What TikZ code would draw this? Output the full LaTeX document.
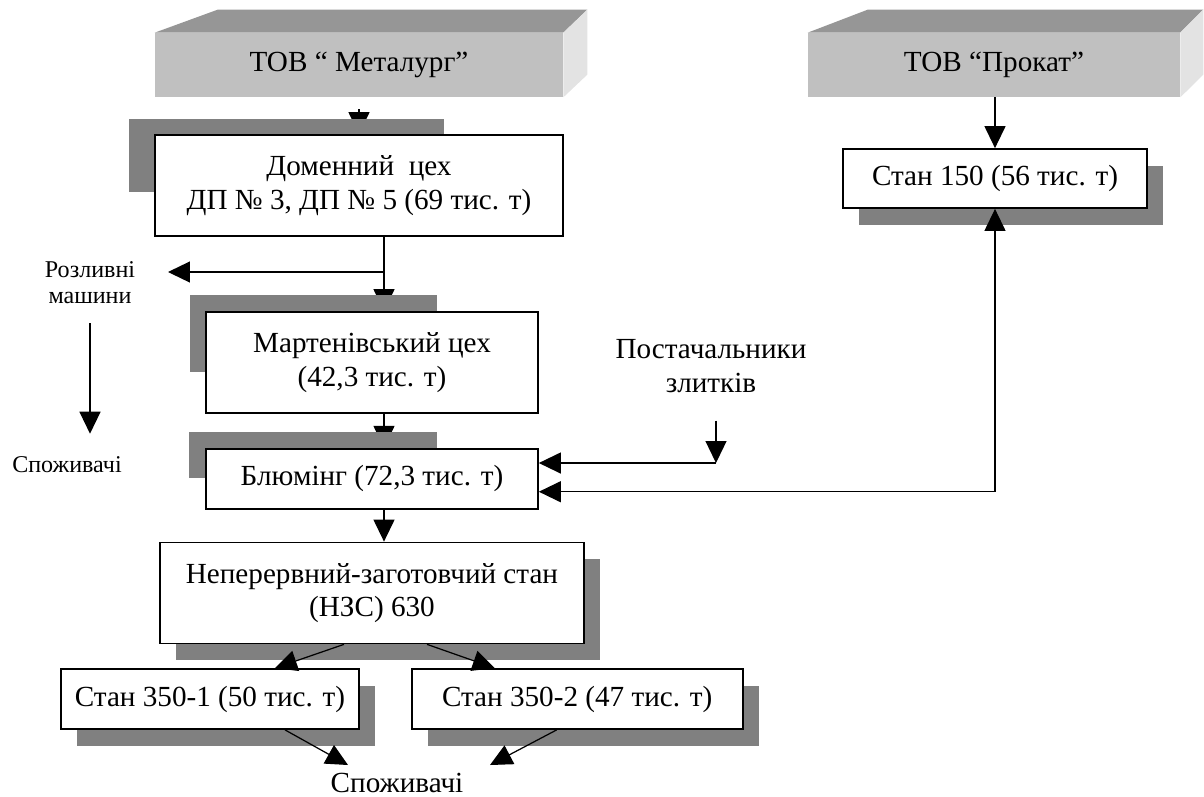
\documentclass[tikz,border=0pt]{standalone}
\usepackage{fontspec}
\setmainfont{Liberation Serif}
\usetikzlibrary{positioning,arrows.meta,shadows}
\definecolor{shadowgray}{HTML}{808080}
\definecolor{face}{HTML}{C0C0C0}
\definecolor{facetop}{HTML}{969696}
\definecolor{faceside}{HTML}{E3E3E3}
\pgfdeclarelayer{back}
\pgfdeclarelayer{mid}
\pgfsetlayers{back,mid,main}

\begin{document}
\begin{tikzpicture}[x=0.02cm,y=-0.02cm,
  font=\fontsize{16.6}{19}\selectfont,
  box/.style={draw=black,line width=1pt,fill=white,align=center,inner sep=0pt},
  sbox/.style={box,drop shadow={shadow xshift=0.32cm,shadow yshift=-0.33cm,fill=shadowgray,opacity=1}},
  front/.style={fill=face,align=center,inner sep=0pt,minimum height=1.28cm},
  arr/.style={-{Triangle[length=0.44cm,width=0.42cm]},line width=0.7pt},
  arrs/.style={{Triangle[length=0.44cm,width=0.42cm]}-{Triangle[length=0.44cm,width=0.42cm]},line width=0.7pt},
  lbl/.style={font=\fontsize{13.7}{14.8}\selectfont,align=center}]
  \useasboundingbox (0,0) rectangle (1204,796);

  % top blocks
  \node[front,minimum width=8.16cm] (met) at (359,65) {ТОВ “ Металург”};
  \node[front,minimum width=7.44cm] (prok) at (994,65) {ТОВ “Прокат”};
  \fill[facetop] (met.north west) -- ++(1.26cm,0.46cm) -- ([shift={(0.48cm,0.46cm)}]met.north east) -- (met.north east) -- cycle;
  \fill[faceside] (met.north east) -- ++(0.48cm,0.46cm) -- ++(0,-1.3cm) -- (met.south east) -- cycle;
  \fill[facetop] (prok.north west) -- ++(1.2cm,0.46cm) -- ([shift={(0.46cm,0.46cm)}]prok.north east) -- (prok.north east) -- cycle;
  \fill[faceside] (prok.north east) -- ++(0.46cm,0.46cm) -- ++(0,-1.3cm) -- (prok.south east) -- cycle;

  % shops
  \node[box,minimum width=8.16cm,minimum height=2.02cm] (dom) at (359,185.5) {Доменний\ \ цех\\ДП № 3, ДП № 5 (69 тис. т)};
  \node[box,minimum width=6.64cm,minimum height=2.02cm] (mart) at (372,362.5) {Мартенівський цех\\(42,3 тис. т)};
  \node[box,below=0.68cm of mart,minimum width=6.64cm,minimum height=1.2cm] (blum) {Блюмінг (72,3 тис. т)};
  \node[sbox,below=0.64cm of blum,minimum width=8.48cm,minimum height=2.02cm] (nzs) {Неперервний-заготовчий стан\\(НЗС) 630};
  \node[sbox,minimum width=5.96cm,minimum height=1.2cm] (s1) at (210,699) {Стан 350-1 (50 тис. т)};
  \node[sbox,right=1.02cm of s1,minimum width=6.62cm,minimum height=1.2cm] (s2) {Стан 350-2 (47 тис. т)};
  \node[sbox,minimum width=6.08cm,minimum height=1.18cm] (s150) at (995,178.5) {Стан 150 (56 тис. т)};

  % labels
  \node[lbl] (rozl) at (90,283) {Розливні\\машини};
  \node[lbl] (spl) at (67,465) {Споживачі};
  \node[align=center] (post) at (711,366) {Постачальники\\злитків};
  \node[anchor=base] (spb) at (397,792) {Споживачі};

  \coordinate (trunk) at (384,272);
  \coordinate (rozlin) at (168,272);
  \coordinate (join) at (716,463);
  \coordinate (in1) at (348,765);
  \coordinate (in2) at (490,765);

  \begin{pgfonlayer}{back}
    \draw[arr,shorten <=0.24cm] (met.south) -- (dom.north);
    \draw[arr] (dom.south -| trunk) -- (mart.north -| trunk);
    \draw[arr] (mart.south -| trunk) -- (blum.north -| trunk);
  \end{pgfonlayer}
  \begin{pgfonlayer}{mid}
    \fill[shadowgray] ([shift={(-0.5cm,0.3cm)}]dom.north west) rectangle ++(6.3cm,-1.46cm);
    \fill[shadowgray] ([shift={(-0.3cm,0.32cm)}]mart.north west) rectangle ++(4.94cm,-1.54cm);
    \fill[shadowgray] ([shift={(-0.32cm,0.32cm)}]blum.north west) rectangle ++(4.96cm,-0.92cm);
  \end{pgfonlayer}

  \draw[arr] (trunk) -- (rozlin);
  \draw[arr,shorten <=0.26cm,shorten >=0.34cm] (rozl.south) -- (rozl.south |- spl.north);
  \draw[arr] (blum.south -| trunk) -- (nzs.north -| trunk);
  \draw[arr] ([xshift=-0.56cm]nzs.south) -- ([xshift=1.3cm]s1.north);
  \draw[arr] ([xshift=1.1cm]nzs.south) -- ([xshift=-1.65cm]s2.north);
  \draw[arr] ([xshift=1.5cm]s1.south) -- (in1);
  \draw[arr] ([xshift=-0.41cm]s2.south) -- (in2);
  \draw[arr] (s150.north |- prok.south) -- (s150.north);
  \draw[arrs] ([yshift=-0.26cm]blum.east) -| (s150.south);
  \draw[arr,shorten <=0.44cm] (post.south -| join) -- (join);
  \draw[arr] (join) -- (join -| blum.east);
\end{tikzpicture}
\end{document}
